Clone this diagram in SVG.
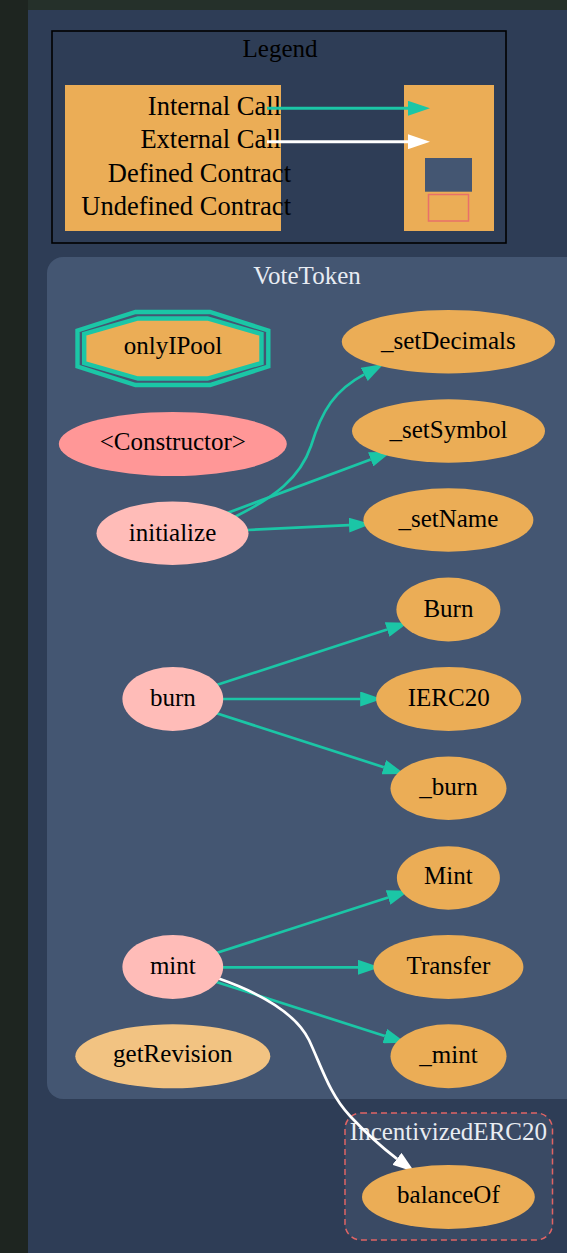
<svg xmlns="http://www.w3.org/2000/svg" width="567" height="1253" viewBox="0 0 567 1253">
  <style>
    text { font-family: "Liberation Serif", "Times New Roman", serif; font-size: 25px; fill: #000000; }
    .mid { text-anchor: middle; }
    .end { text-anchor: end; }
    .key { font-size: 26.5px; }
    .clabel { fill: #e8ecf2; }
    .fn { fill: #ebad56; }
    .pub { fill: #ffbcb8; }
    .ctor { fill: #ff9797; }
    .view { fill: #f2c382; }
    .edge { fill: none; stroke: #1bc6a6; stroke-width: 2.7; }
    .edge-ext { fill: none; stroke: #ffffff; stroke-width: 2.7; }
  </style>
  <defs>
    <marker id="arrowInt" viewBox="0 0 22 15" refX="0" refY="7.5" markerWidth="22" markerHeight="15" markerUnits="userSpaceOnUse" orient="auto">
      <path d="M0,0 L22,7.5 L0,15 z" fill="#1bc6a6"/>
    </marker>
    <marker id="arrowExt" viewBox="0 0 22 15" refX="0" refY="7.5" markerWidth="22" markerHeight="15" markerUnits="userSpaceOnUse" orient="auto">
      <path d="M0,0 L22,7.5 L0,15 z" fill="#ffffff"/>
    </marker>
  </defs>

  <!-- page background -->
  <rect x="0" y="0" width="567" height="1253" fill="#1e2520"/>
  <rect x="28" y="0" width="539" height="10" fill="#25302a"/>
  <rect x="28" y="10" width="539" height="1243" fill="#2e3d56"/>

  <!-- legend -->
  <g id="legend">
    <rect x="52" y="31" width="454" height="212" fill="#2e3d56" stroke="#000000" stroke-width="1.6"/>
    <text class="mid" x="280" y="57">Legend</text>
    <rect x="65" y="85" width="216" height="146" fill="#ebad56"/>
    <rect x="404" y="85" width="90" height="146" fill="#ebad56"/>
    <text class="end key" x="281" y="115">Internal Call</text>
    <text class="end key" x="281" y="148">External Call</text>
    <text class="end key" x="291" y="182">Defined Contract</text>
    <text class="end key" x="291" y="215">Undefined Contract</text>
    <line x1="267" y1="108.3" x2="408" y2="108.3" stroke="#1bc6a6" stroke-width="3" marker-end="url(#arrowInt)"/>
    <line x1="267" y1="141.7" x2="408" y2="141.7" stroke="#ffffff" stroke-width="3" marker-end="url(#arrowExt)"/>
    <rect x="425" y="158" width="47" height="33.7" fill="#445672"/>
    <rect x="428.5" y="194.5" width="40" height="26.5" fill="none" stroke="#e8706a" stroke-width="1.5"/>
  </g>

  <!-- contract clusters -->
  <g id="cluster_VoteToken">
    <rect x="47" y="257" width="535" height="842" rx="16" ry="16" fill="#445672"/>
    <text class="mid clabel" x="307" y="284">VoteToken</text>
  </g>
  <g id="cluster_IncentivizedERC20">
    <rect x="345" y="1113" width="207.5" height="127" rx="16" ry="16" fill="#3a4a64" stroke="#e06464" stroke-width="1.5" stroke-dasharray="6,4"/>
    <text class="mid clabel" x="448.4" y="1140">IncentivizedERC20</text>
  </g>

  <!-- call edges -->
  <g id="edges">
    <path class="edge" d="M235,516.7 C275,497 300,478 311,446 C322,410 335,390 364.2,374.4" marker-end="url(#arrowInt)"/>
    <path class="edge" d="M226.5,513.3 L370.7,459.4" marker-end="url(#arrowInt)"/>
    <path class="edge" d="M247.7,530 L349,525.1" marker-end="url(#arrowInt)"/>
    <path class="edge" d="M216.5,685 L387.1,629.5" marker-end="url(#arrowInt)"/>
    <path class="edge" d="M221.5,699 L360.2,699" marker-end="url(#arrowInt)"/>
    <path class="edge" d="M216.5,713.3 L383.8,767.2" marker-end="url(#arrowInt)"/>
    <path class="edge" d="M215.5,953.3 L388.1,897.5" marker-end="url(#arrowInt)"/>
    <path class="edge" d="M221.5,967.3 L358,967.3" marker-end="url(#arrowInt)"/>
    <path class="edge" d="M215.5,981.7 L384.8,1036" marker-end="url(#arrowInt)"/>
    <path class="edge-ext" d="M218,978.3 C260,993 295,1012 309,1040 C322,1068 330,1095 350,1116 C365,1132 380,1146 397,1158.8" marker-end="url(#arrowExt)"/>
  </g>

  <!-- VoteToken functions -->
  <g id="onlyIPool">
    <polygon points="135.5,312 210,312 268.3,330.5 268.3,366.5 210,385 135.5,385 77.5,366.5 77.5,330.5" fill="none" stroke="#1bc6a6" stroke-width="4.4"/>
    <polygon points="138,318.5 207.5,318.5 261.5,334 261.5,363 207.5,378.5 138,378.5 84.2,363 84.2,334" fill="#ebad56" stroke="#1bc6a6" stroke-width="4.4"/>
    <text class="mid" x="173" y="354">onlyIPool</text>
  </g>
  <g id="constructor">
    <ellipse class="ctor" cx="172.8" cy="444" rx="114" ry="32"/>
    <text class="mid" x="172.8" y="450">&lt;Constructor&gt;</text>
  </g>
  <g id="initialize">
    <ellipse class="pub" cx="172.5" cy="533.3" rx="76" ry="31.7"/>
    <text class="mid" x="172.5" y="540.7">initialize</text>
  </g>
  <g id="setDecimals">
    <ellipse class="fn" cx="448.4" cy="341.7" rx="106.6" ry="31.7"/>
    <text class="mid" x="448.4" y="348.7">_setDecimals</text>
  </g>
  <g id="setSymbol">
    <ellipse class="fn" cx="448.5" cy="431" rx="96.5" ry="31.7"/>
    <text class="mid" x="448.5" y="438">_setSymbol</text>
  </g>
  <g id="setName">
    <ellipse class="fn" cx="448.4" cy="520" rx="85" ry="31.7"/>
    <text class="mid" x="448.4" y="526.7">_setName</text>
  </g>
  <g id="BurnEvent">
    <ellipse class="fn" cx="448.4" cy="609.5" rx="52" ry="32"/>
    <text class="mid" x="448.4" y="616.7">Burn</text>
  </g>
  <g id="IERC20">
    <ellipse class="fn" cx="448.7" cy="699" rx="72.6" ry="32"/>
    <text class="mid" x="448.7" y="706">IERC20</text>
  </g>
  <g id="internalBurn">
    <ellipse class="fn" cx="448.5" cy="788.3" rx="58" ry="31.7"/>
    <text class="mid" x="448.5" y="795">_burn</text>
  </g>
  <g id="burn">
    <ellipse class="pub" cx="172.8" cy="699" rx="50.4" ry="32"/>
    <text class="mid" x="172.8" y="706">burn</text>
  </g>
  <g id="MintEvent">
    <ellipse class="fn" cx="448.4" cy="878" rx="51.5" ry="31.7"/>
    <text class="mid" x="448.4" y="884.3">Mint</text>
  </g>
  <g id="TransferEvent">
    <ellipse class="fn" cx="448.4" cy="967" rx="75" ry="32"/>
    <text class="mid" x="448.4" y="974">Transfer</text>
  </g>
  <g id="internalMint">
    <ellipse class="fn" cx="448.5" cy="1056.3" rx="58" ry="32"/>
    <text class="mid" x="448.5" y="1063.3">_mint</text>
  </g>
  <g id="mint">
    <ellipse class="pub" cx="172.8" cy="967" rx="50.4" ry="32"/>
    <text class="mid" x="172.8" y="974">mint</text>
  </g>
  <g id="getRevision">
    <ellipse class="view" cx="172.8" cy="1056.3" rx="97.5" ry="32"/>
    <text class="mid" x="172.8" y="1062.3">getRevision</text>
  </g>

  <!-- IncentivizedERC20 functions -->
  <g id="balanceOf">
    <ellipse class="fn" cx="448.4" cy="1197" rx="86.4" ry="32"/>
    <text class="mid" x="448.4" y="1203.3">balanceOf</text>
  </g>
</svg>
